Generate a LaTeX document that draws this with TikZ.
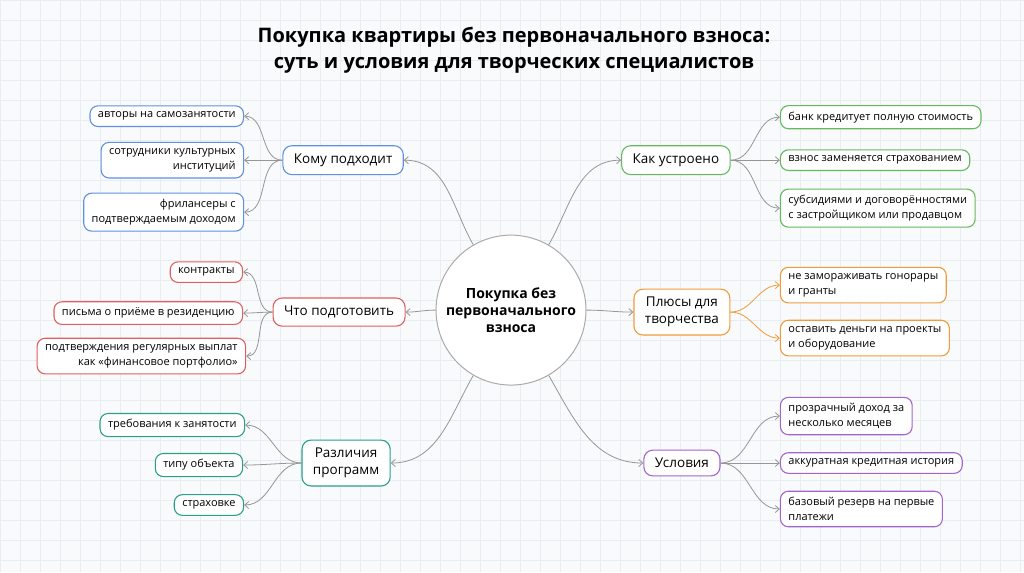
\documentclass[tikz,border=0pt]{standalone}
\usepackage{fontspec}
\setmainfont{Open Sans}
\usetikzlibrary{arrows.meta}

\definecolor{bgpaper}{RGB}{248,250,251}
\definecolor{gridline}{RGB}{232,237,241}
\definecolor{edgegray}{RGB}{150,150,150}
\definecolor{cblue}{RGB}{95,145,225}
\definecolor{cred}{RGB}{225,95,95}
\definecolor{cteal}{RGB}{40,160,140}
\definecolor{cgreen}{RGB}{100,185,95}
\definecolor{corange}{RGB}{240,155,60}
\definecolor{cpurple}{RGB}{165,100,205}

\tikzset{
  branch/.style={draw=#1, line width=1.1pt, fill=white, rounded corners=9pt,
    inner xsep=11pt, inner ysep=8pt, align=center, font=\fontsize{13.5}{17}\selectfont},
  leaf/.style={draw=#1, line width=1.1pt, fill=white, rounded corners=8pt,
    inner xsep=8pt, inner ysep=6pt, font=\fontsize{11}{15}\selectfont},
  leafL/.style={leaf=#1, anchor=east, align=right},
  leafR/.style={leaf=#1, anchor=west, align=left},
  link/.style={draw=edgegray, line width=0.8pt, -{Straight Barb[length=4pt,width=7pt]}},
}

\begin{document}
\begin{tikzpicture}[x=1pt,y=-1pt]
    % === Background and grid ===
    \fill[bgpaper] (0,0) rectangle (1024,572);
    \foreach \gx in {0,20,...,1020} \draw[gridline, line width=0.5pt] (\gx,0) -- (\gx,572);
    \foreach \gy in {0,20,...,570} \draw[gridline, line width=0.5pt] (0,\gy) -- (1024,\gy);
    \useasboundingbox (0,0) rectangle (1024,572);

    % === Title ===
    \node[align=center, font=\fontsize{20}{27}\selectfont\bfseries] (title) at (514,50)
        {Покупка квартиры без первоначального взноса:\\суть и условия для творческих специалистов};

    % === Centre ===
    \node[circle, draw=edgegray!80, line width=1pt, fill=white, minimum size=150pt,
        align=center, font=\fontsize{14}{17}\selectfont\bfseries] (hub) at (511,310)
        {Покупка без\\первоначального\\взноса};

    % === Branches ===
    \node[branch=cblue]   (fit)   at (343,160) {Кому подходит};
    \node[branch=cred]    (prep)  at (339,312) {Что подготовить};
    \node[branch=cteal]   (diff)  at (346,463) {Различия\\программ};
    \node[branch=cgreen]  (how)   at (676,160) {Как устроено};
    \node[branch=corange] (plus)  at (682,312) {Плюсы для\\творчества};
    \node[branch=cpurple] (terms) at (682,463) {Условия};

    % === Leaves, left ===
    \node[leafL=cblue] (fit1) at (244,116) {авторы на самозанятости};
    \node[leafL=cblue] (fit2) at (244,160) {сотрудники культурных\\институций};
    \node[leafL=cblue] (fit3) at (244,212) {фрилансеры с\\подтверждаемым доходом};
    \node[leafL=cred] (prep1) at (243,272) {контракты};
    \node[leafL=cred] (prep2) at (243,313) {письма о приёме в резиденцию};
    \node[leafL=cred] (prep3) at (246,356) {подтверждения регулярных выплат\\как «финансовое портфолио»};
    \node[leafL=cteal] (diff1) at (245,425) {требования к занятости};
    \node[leafL=cteal] (diff2) at (243,465) {типу объекта};
    \node[leafL=cteal] (diff3) at (244,505) {страховке};

    % === Leaves, right ===
    \node[leafR=cgreen] (how1) at (780,117) {банк кредитует полную стоимость};
    \node[leafR=cgreen] (how2) at (780,160) {взнос заменяется страхованием};
    \node[leafR=cgreen] (how3) at (780,208) {субсидиями и договорённостями\\с застройщиком или продавцом};
    \node[leafR=corange] (plus1) at (780,285) {не замораживать гонорары\\и гранты};
    \node[leafR=corange] (plus2) at (780,338) {оставить деньги на проекты\\и оборудование};
    \node[leafR=cpurple] (terms1) at (780,416) {прозрачный доход за\\несколько месяцев};
    \node[leafR=cpurple] (terms2) at (780,463) {аккуратная кредитная история};
    \node[leafR=cpurple] (terms3) at (780,509) {базовый резерв на первые\\платежи};

    % === Hub to branches ===
    \draw[link] (hub.120) to[out=120, in=0] (fit.east);
    \draw[link] (hub.west) to[out=180, in=0] (prep.east);
    \draw[link] (hub.240) to[out=240, in=0] (diff.east);
    \draw[link] (hub.60) to[out=60, in=180] (how.west);
    \draw[link] (hub.east) to[out=0, in=180] (plus.west);
    \draw[link] (hub.300) to[out=300, in=180] (terms.west);

    % === Branches to leaves ===
    \foreach \src/\dst in {fit/fit1, fit/fit2, fit/fit3, prep/prep1, prep/prep2, prep/prep3,
                           diff/diff1, diff/diff2, diff/diff3}
        \draw[link] (\src.west) to[out=180, in=0] (\dst.east);
    \foreach \src/\dst in {how/how1, how/how2, how/how3, terms/terms1, terms/terms2, terms/terms3}
        \draw[link] (\src.east) to[out=0, in=180] (\dst.west);
    \foreach \dst in {plus1, plus2}
        \draw[link, draw=corange] (plus.east) to[out=0, in=180] (\dst.west);

\end{tikzpicture}
\end{document}
